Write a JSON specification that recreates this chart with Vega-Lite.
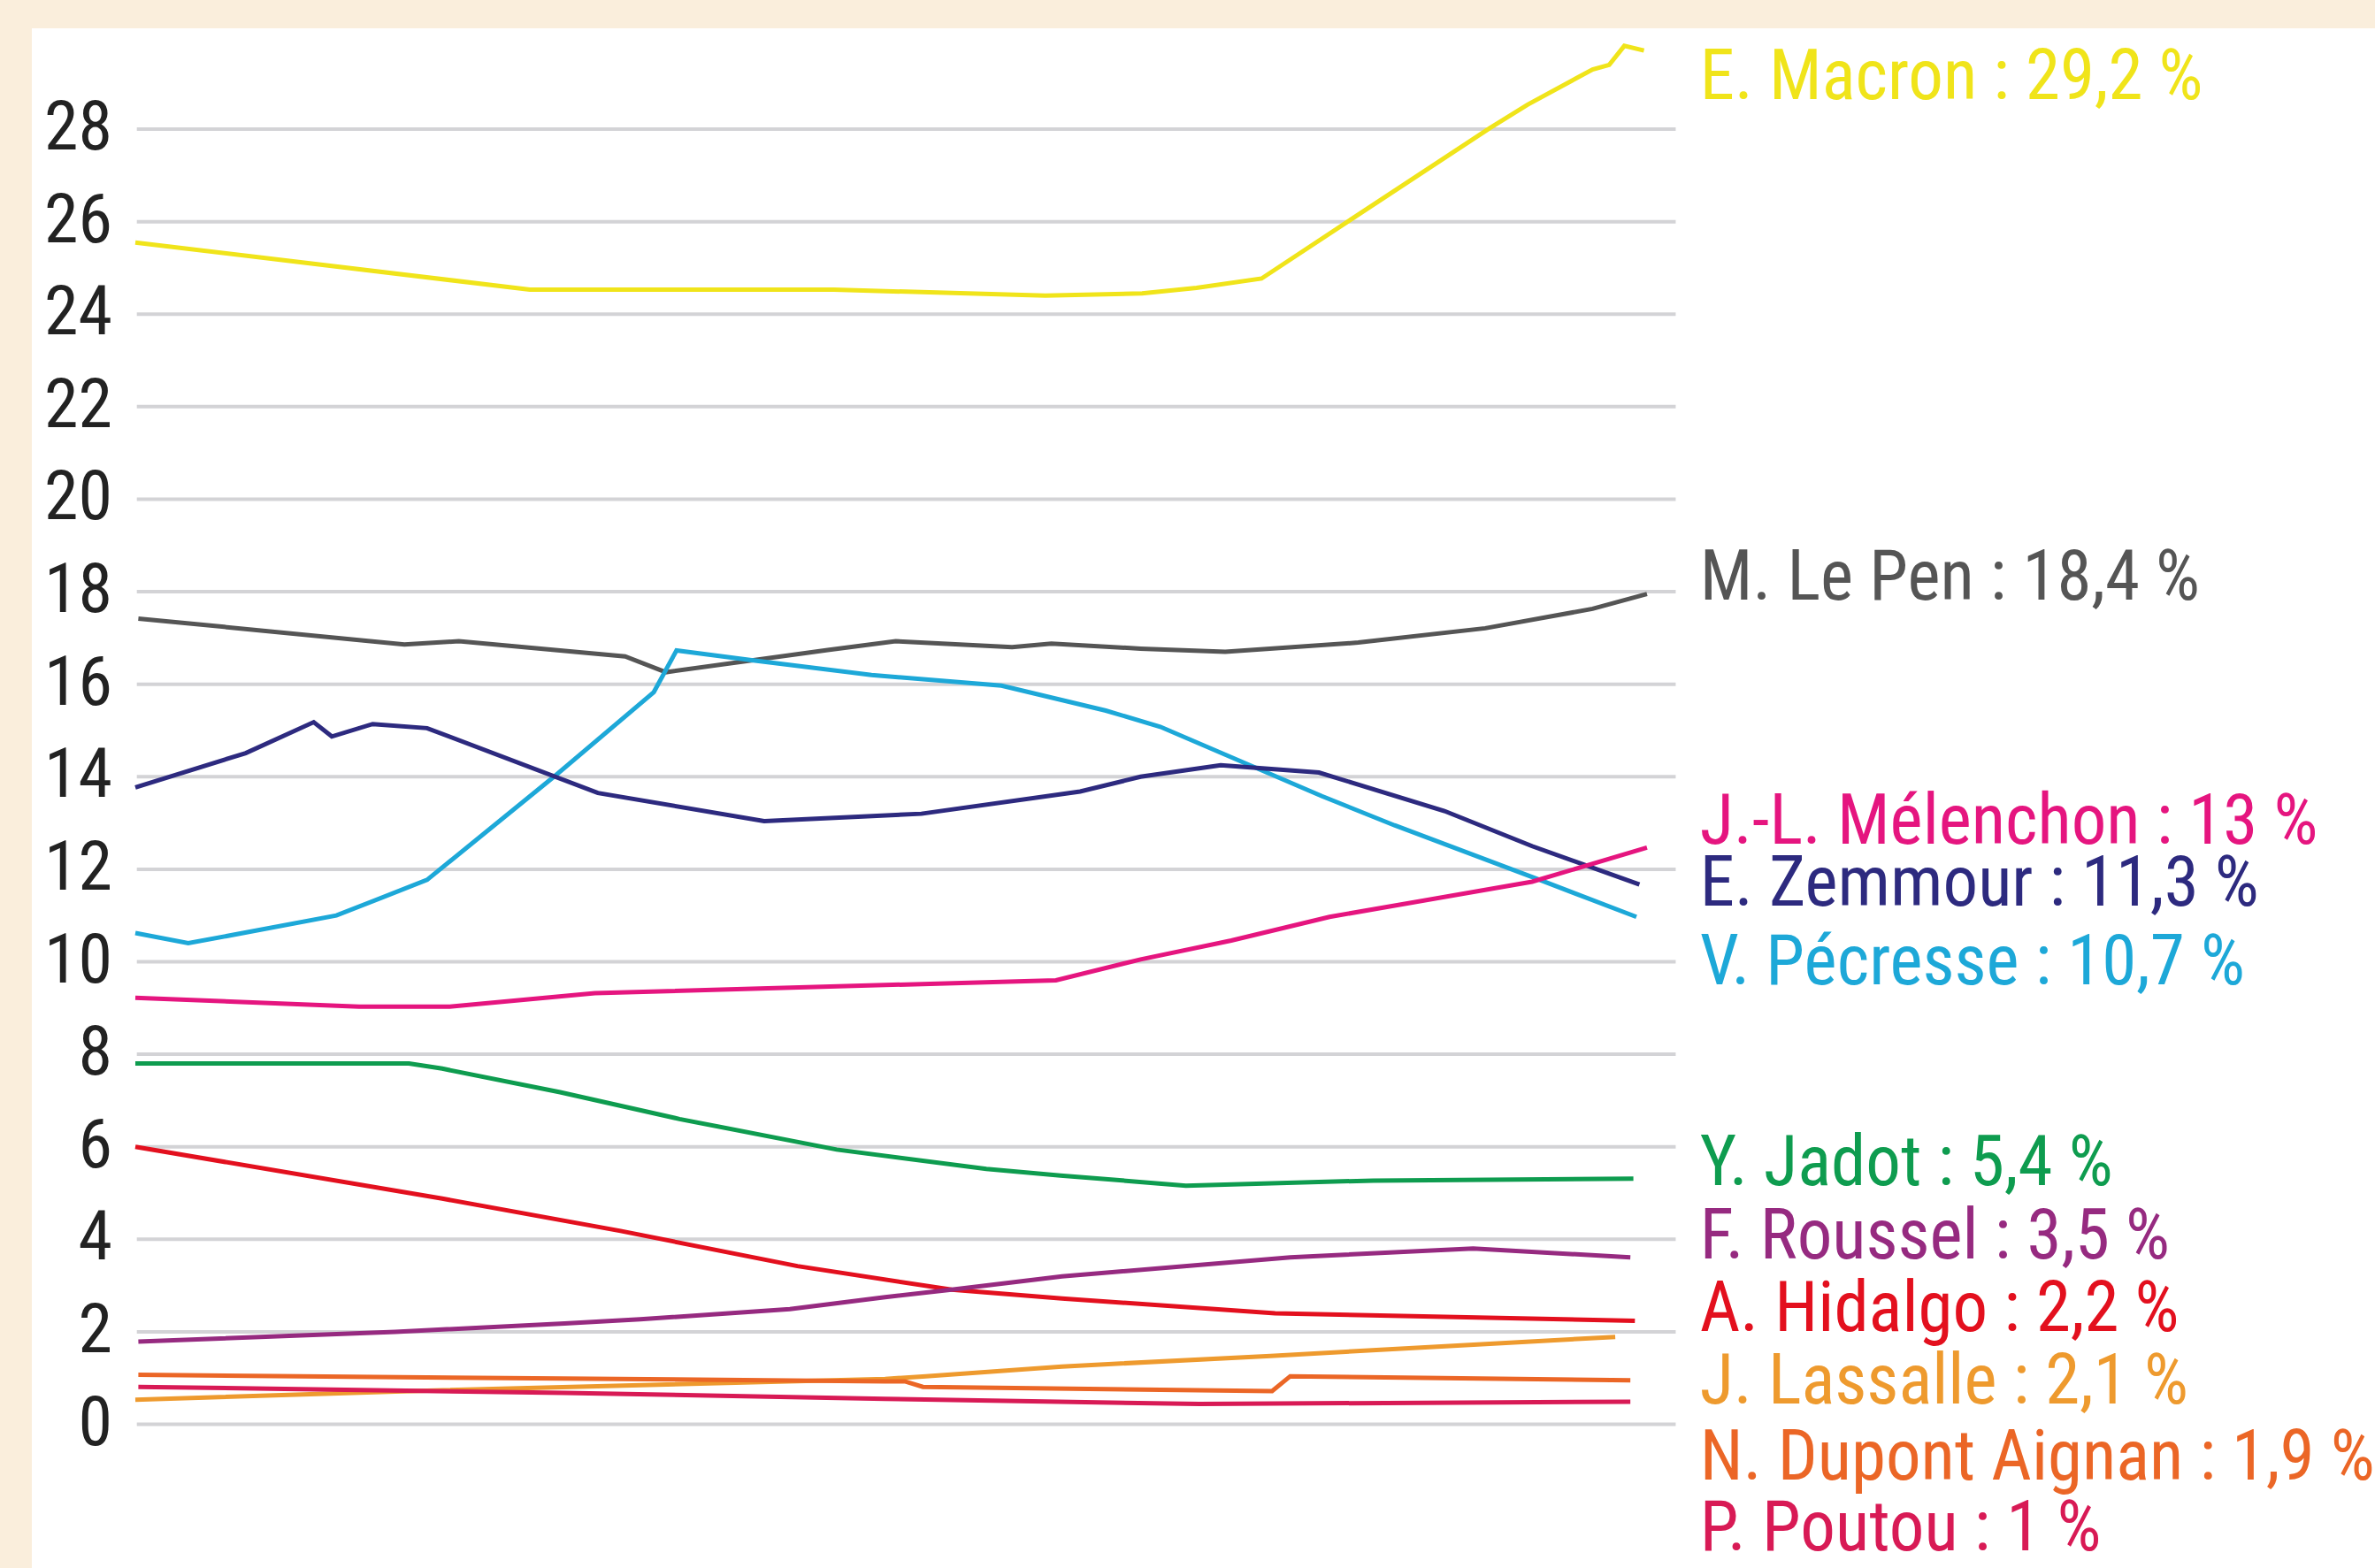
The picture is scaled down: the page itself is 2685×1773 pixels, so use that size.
{
  "$schema": "https://vega.github.io/schema/vega-lite/v6.json",
  "width": 2685,
  "height": 1773,
  "autosize": {"type": "fit", "contains": "padding"},
  "padding": {"left": 36, "top": 32, "right": 0, "bottom": 0},
  "background": "#FAEEDC",
  "config": {
    "view": {"fill": "white", "stroke": null},
    "axis": {"disable": true},
    "font": "Roboto Condensed"
  },
  "datasets": {
    "grid": [{"v": 0}, {"v": 2}, {"v": 4}, {"v": 6}, {"v": 8}, {"v": 10}, {"v": 12}, {"v": 14}, {"v": 16}, {"v": 18}, {"v": 20}, {"v": 22}, {"v": 24}, {"v": 26}, {"v": 28}],
    "polls": [
      {"c": "Macron", "t": 0, "v": 25.55}, {"c": "Macron", "t": 26.1, "v": 24.53}, {"c": "Macron", "t": 46.2, "v": 24.53}, {"c": "Macron", "t": 60.2, "v": 24.4}, {"c": "Macron", "t": 66.6, "v": 24.45}, {"c": "Macron", "t": 70.2, "v": 24.57}, {"c": "Macron", "t": 74.5, "v": 24.77}, {"c": "Macron", "t": 80.2, "v": 26.0}, {"c": "Macron", "t": 89.6, "v": 28.02}, {"c": "Macron", "t": 92.1, "v": 28.53}, {"c": "Macron", "t": 96.4, "v": 29.29}, {"c": "Macron", "t": 97.5, "v": 29.39}, {"c": "Macron", "t": 98.5, "v": 29.8}, {"c": "Macron", "t": 99.8, "v": 29.7},
      {"c": "Le Pen", "t": 0.2, "v": 17.42}, {"c": "Le Pen", "t": 17.8, "v": 16.86}, {"c": "Le Pen", "t": 21.4, "v": 16.93}, {"c": "Le Pen", "t": 32.4, "v": 16.6}, {"c": "Le Pen", "t": 35.1, "v": 16.26}, {"c": "Le Pen", "t": 45.8, "v": 16.74}, {"c": "Le Pen", "t": 50.3, "v": 16.93}, {"c": "Le Pen", "t": 58.0, "v": 16.8}, {"c": "Le Pen", "t": 60.6, "v": 16.88}, {"c": "Le Pen", "t": 66.5, "v": 16.77}, {"c": "Le Pen", "t": 72.1, "v": 16.7}, {"c": "Le Pen", "t": 80.9, "v": 16.9}, {"c": "Le Pen", "t": 89.3, "v": 17.21}, {"c": "Le Pen", "t": 96.4, "v": 17.63}, {"c": "Le Pen", "t": 100, "v": 17.95},
      {"c": "Pécresse", "t": 0, "v": 10.62}, {"c": "Pécresse", "t": 3.5, "v": 10.4}, {"c": "Pécresse", "t": 13.3, "v": 11.0}, {"c": "Pécresse", "t": 19.3, "v": 11.77}, {"c": "Pécresse", "t": 27.8, "v": 14.03}, {"c": "Pécresse", "t": 34.3, "v": 15.83}, {"c": "Pécresse", "t": 35.8, "v": 16.73}, {"c": "Pécresse", "t": 41.0, "v": 16.51}, {"c": "Pécresse", "t": 48.7, "v": 16.2}, {"c": "Pécresse", "t": 57.3, "v": 15.97}, {"c": "Pécresse", "t": 64.2, "v": 15.43}, {"c": "Pécresse", "t": 67.8, "v": 15.08}, {"c": "Pécresse", "t": 78.5, "v": 13.58}, {"c": "Pécresse", "t": 83.3, "v": 12.95}, {"c": "Pécresse", "t": 92.9, "v": 11.77}, {"c": "Pécresse", "t": 99.3, "v": 10.97},
      {"c": "Zemmour", "t": 0, "v": 13.77}, {"c": "Zemmour", "t": 7.3, "v": 14.51}, {"c": "Zemmour", "t": 11.8, "v": 15.18}, {"c": "Zemmour", "t": 13.0, "v": 14.87}, {"c": "Zemmour", "t": 15.7, "v": 15.14}, {"c": "Zemmour", "t": 19.3, "v": 15.05}, {"c": "Zemmour", "t": 30.6, "v": 13.65}, {"c": "Zemmour", "t": 41.6, "v": 13.04}, {"c": "Zemmour", "t": 52.0, "v": 13.2}, {"c": "Zemmour", "t": 62.5, "v": 13.68}, {"c": "Zemmour", "t": 66.5, "v": 14.0}, {"c": "Zemmour", "t": 71.8, "v": 14.25}, {"c": "Zemmour", "t": 78.3, "v": 14.09}, {"c": "Zemmour", "t": 86.6, "v": 13.26}, {"c": "Zemmour", "t": 92.4, "v": 12.5}, {"c": "Zemmour", "t": 99.5, "v": 11.67},
      {"c": "Mélenchon", "t": 0, "v": 9.22}, {"c": "Mélenchon", "t": 14.8, "v": 9.03}, {"c": "Mélenchon", "t": 20.8, "v": 9.03}, {"c": "Mélenchon", "t": 30.4, "v": 9.32}, {"c": "Mélenchon", "t": 60.9, "v": 9.6}, {"c": "Mélenchon", "t": 66.5, "v": 10.05}, {"c": "Mélenchon", "t": 72.5, "v": 10.46}, {"c": "Mélenchon", "t": 79.0, "v": 10.97}, {"c": "Mélenchon", "t": 92.4, "v": 11.73}, {"c": "Mélenchon", "t": 100, "v": 12.47},
      {"c": "Jadot", "t": 0, "v": 7.8}, {"c": "Jadot", "t": 18.1, "v": 7.8}, {"c": "Jadot", "t": 20.3, "v": 7.69}, {"c": "Jadot", "t": 28.1, "v": 7.18}, {"c": "Jadot", "t": 36.0, "v": 6.6}, {"c": "Jadot", "t": 46.4, "v": 5.94}, {"c": "Jadot", "t": 56.3, "v": 5.52}, {"c": "Jadot", "t": 61.2, "v": 5.38}, {"c": "Jadot", "t": 69.5, "v": 5.16}, {"c": "Jadot", "t": 81.9, "v": 5.27}, {"c": "Jadot", "t": 99.1, "v": 5.31},
      {"c": "Hidalgo", "t": 0, "v": 6.0}, {"c": "Hidalgo", "t": 20.3, "v": 4.88}, {"c": "Hidalgo", "t": 32.1, "v": 4.18}, {"c": "Hidalgo", "t": 43.8, "v": 3.42}, {"c": "Hidalgo", "t": 54.0, "v": 2.91}, {"c": "Hidalgo", "t": 61.3, "v": 2.72}, {"c": "Hidalgo", "t": 75.4, "v": 2.4}, {"c": "Hidalgo", "t": 99.2, "v": 2.24},
      {"c": "Roussel", "t": 0.2, "v": 1.79}, {"c": "Roussel", "t": 17.2, "v": 2.0}, {"c": "Roussel", "t": 28.4, "v": 2.18}, {"c": "Roussel", "t": 33.4, "v": 2.27}, {"c": "Roussel", "t": 43.3, "v": 2.49}, {"c": "Roussel", "t": 49.6, "v": 2.75}, {"c": "Roussel", "t": 54.0, "v": 2.91}, {"c": "Roussel", "t": 61.3, "v": 3.2}, {"c": "Roussel", "t": 76.4, "v": 3.61}, {"c": "Roussel", "t": 88.5, "v": 3.8}, {"c": "Roussel", "t": 98.9, "v": 3.61},
      {"c": "Lassalle", "t": 0, "v": 0.53}, {"c": "Lassalle", "t": 17.2, "v": 0.71}, {"c": "Lassalle", "t": 49.6, "v": 0.98}, {"c": "Lassalle", "t": 52.3, "v": 1.04}, {"c": "Lassalle", "t": 61.3, "v": 1.25}, {"c": "Lassalle", "t": 75.1, "v": 1.48}, {"c": "Lassalle", "t": 97.9, "v": 1.89},
      {"c": "Dupont Aignan", "t": 0.2, "v": 1.07}, {"c": "Dupont Aignan", "t": 49.6, "v": 0.93}, {"c": "Dupont Aignan", "t": 50.9, "v": 0.93}, {"c": "Dupont Aignan", "t": 52.1, "v": 0.81}, {"c": "Dupont Aignan", "t": 75.2, "v": 0.72}, {"c": "Dupont Aignan", "t": 76.4, "v": 1.04}, {"c": "Dupont Aignan", "t": 98.9, "v": 0.95},
      {"c": "Poutou", "t": 0.2, "v": 0.81}, {"c": "Poutou", "t": 28.4, "v": 0.68}, {"c": "Poutou", "t": 49.6, "v": 0.55}, {"c": "Poutou", "t": 70.4, "v": 0.44}, {"c": "Poutou", "t": 98.9, "v": 0.49}
    ],
    "labels": [
      {"c": "Macron", "label": "E. Macron : 29,2 %", "v": 28.65},
      {"c": "Le Pen", "label": "M. Le Pen : 18,4 %", "v": 17.83},
      {"c": "Mélenchon", "label": "J.-L. Mélenchon : 13 %", "v": 12.55},
      {"c": "Zemmour", "label": "E. Zemmour : 11,3 %", "v": 11.21},
      {"c": "Pécresse", "label": "V. Pécresse : 10,7 %", "v": 9.51},
      {"c": "Jadot", "label": "Y. Jadot : 5,4 %", "v": 5.17},
      {"c": "Roussel", "label": "F. Roussel : 3,5 %", "v": 3.58},
      {"c": "Hidalgo", "label": "A. Hidalgo : 2,2 %", "v": 2.02},
      {"c": "Lassalle", "label": "J. Lassalle : 2,1 %", "v": 0.45},
      {"c": "Dupont Aignan", "label": "N. Dupont Aignan : 1,9 %", "v": -1.2},
      {"c": "Poutou", "label": "P. Poutou : 1 %", "v": -2.72}
    ]
  },
  "encoding": {
    "y": {"field": "v", "type": "quantitative", "scale": {"domain": [-3.106, 30.18], "nice": false, "zero": false}}
  },
  "layer": [
    {
      "data": {"name": "grid"},
      "mark": {"type": "rule", "color": "#D3D3D6", "strokeWidth": 4},
      "encoding": {
        "x": {"datum": 0.1, "type": "quantitative", "scale": {"domain": [-6.846, 148.16], "nice": false, "zero": false}},
        "x2": {"datum": 101.9}
      }
    },
    {
      "data": {"name": "grid"},
      "mark": {"type": "text", "align": "right", "baseline": "middle", "fontSize": 78, "font": "Roboto Condensed", "color": "#222222"},
      "encoding": {
        "x": {"datum": -1.52, "type": "quantitative"},
        "text": {"field": "v", "type": "quantitative"}
      }
    },
    {
      "data": {"name": "polls"},
      "mark": {"type": "line", "strokeWidth": 5},
      "encoding": {
        "x": {"field": "t", "type": "quantitative"},
        "color": {
          "field": "c", "type": "nominal", "legend": null,
          "scale": {
            "domain": ["Macron", "Le Pen", "Mélenchon", "Zemmour", "Pécresse", "Jadot", "Roussel", "Hidalgo", "Lassalle", "Dupont Aignan", "Poutou"],
            "range": ["#F0E41A", "#555555", "#E5157F", "#2D2A7F", "#1DA8D8", "#0E9C4F", "#962A80", "#E3101E", "#EE9A2E", "#EB6626", "#D81A55"]
          }
        }
      }
    },
    {
      "data": {"name": "labels"},
      "mark": {"type": "text", "align": "left", "baseline": "alphabetic", "fontSize": 79, "font": "Roboto Condensed", "clip": true},
      "encoding": {
        "x": {"datum": 103.5, "type": "quantitative"},
        "text": {"field": "label"},
        "color": {"field": "c", "type": "nominal", "legend": null}
      }
    }
  ]
}
